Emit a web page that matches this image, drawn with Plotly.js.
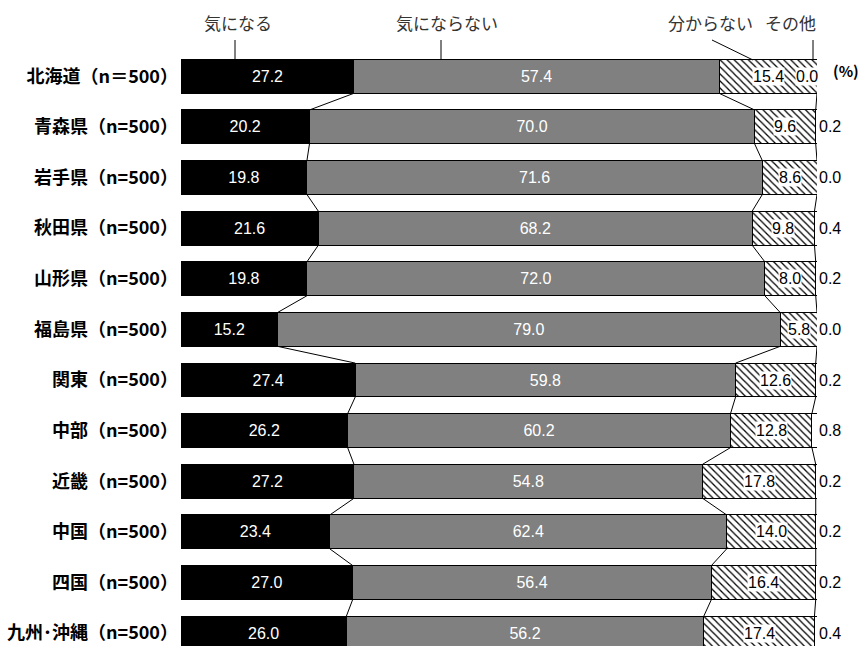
<!DOCTYPE html>
<html><head><meta charset="utf-8">
<script src="https://cdn.plot.ly/plotly-3.0.1.min.js"></script>
<style>html,body{margin:0;padding:0;background:#fff}</style>
</head><body>
<div id="chart" style="width:858px;height:646px"></div>
<script>
const categories = ['北海道（n＝500）','青森県（n=500）','岩手県（n=500）','秋田県（n=500）','山形県（n=500）','福島県（n=500）','関東（n=500）','中部（n=500）','近畿（n=500）','中国（n=500）','四国（n=500）','九州･沖縄（n=500）'];
const seriesNames = ['気になる','気にならない','分からない','その他'];
const kininaru = [27.2,20.2,19.8,21.6,19.8,15.2,27.4,26.2,27.2,23.4,27.0,26.0];
const kininaranai = [57.4,70.0,71.6,68.2,72.0,79.0,59.8,60.2,54.8,62.4,56.4,56.2];
const wakaranai = [15.4,9.6,8.6,9.8,8.0,5.8,12.6,12.8,17.8,14.0,16.4,17.4];
const sonota = [0.0,0.2,0.0,0.4,0.2,0.0,0.2,0.8,0.2,0.2,0.2,0.4];
const unitLabel = '(%)';

const numFont = {family:'Liberation Sans, Arial, sans-serif', size:16};
const bargap = 0.33;
const halfW = (1-bargap)/2;
const line = {color:'#000', width:1};

const traces = [
  {type:'bar', orientation:'h', name:seriesNames[0], y:categories, x:kininaru,
   marker:{color:'#000', line:line}, texttemplate:'%{x:.1f}', textposition:'inside',
   insidetextanchor:'middle', textangle:0, constraintext:'none',
   textfont:Object.assign({color:'#fff'}, numFont), hoverinfo:'skip'},
  {type:'bar', orientation:'h', name:seriesNames[1], y:categories, x:kininaranai,
   marker:{color:'#808080', line:line}, texttemplate:'%{x:.1f}', textposition:'inside',
   insidetextanchor:'middle', textangle:0, constraintext:'none',
   textfont:Object.assign({color:'#fff'}, numFont), hoverinfo:'skip'},
  {type:'bar', orientation:'h', name:seriesNames[2], y:categories, x:wakaranai,
   marker:{color:'#fff', line:line, pattern:{shape:'\\', fgcolor:'#000', bgcolor:'#fff', size:5, solidity:0.25}},
   textposition:'none', hoverinfo:'skip'},
  {type:'bar', orientation:'h', name:seriesNames[3], y:categories, x:sonota,
   marker:{color:'#fff', line:line}, textposition:'none', hoverinfo:'skip'}
];

const shapes = [];
const annotations = [];
const b1 = kininaru.map(v=>v);
const b2 = kininaru.map((v,i)=>v+kininaranai[i]);
const b3 = b2.map((v,i)=>v+wakaranai[i]);
for (let i=0;i<categories.length-1;i++){
  [b1,b2,b3].forEach(b=>{
    shapes.push({type:'line', xref:'x', yref:'y', x0:b[i], x1:b[i+1], y0:i+halfW, y1:i+1-halfW, line:line});
  });
}
categories.forEach((c,i)=>{
  annotations.push({x:b2[i]+wakaranai[i]/2, y:c, xref:'x', yref:'y', text:wakaranai[i].toFixed(1),
    showarrow:false, bgcolor:'#fff', borderpad:0, font:Object.assign({color:'#000'}, numFont)});
  annotations.push({x:100, y:c, xref:'x', yref:'y', text:sonota[i].toFixed(1), xanchor: i===0?'right':'left',
    xshift: i===0?2:1, showarrow:false, bgcolor: i===0?'#fff':'rgba(0,0,0,0)', borderpad:0,
    font:Object.assign({color:'#000'}, numFont)});
});
// series callouts at top
const px = v => (v-181)/636;
const py = v => 1 - (v-51)/595;
const callouts = [
  {name:seriesNames[0], tx:238, lx0:235, lx1:235},
  {name:seriesNames[1], tx:447, lx0:441, lx1:441},
  {name:seriesNames[2], tx:710, lx0:712, lx1:753},
  {name:seriesNames[3], tx:790, lx0:813, lx1:813}
];
callouts.forEach(c=>{
  annotations.push({xref:'paper', yref:'paper', x:px(c.tx), y:py(23), text:c.name, showarrow:false,
    font:{family:'Noto Sans CJK JP', size:17, color:'#333'}, xanchor:'center', yanchor:'middle'});
  shapes.push({type:'line', xref:'paper', yref:'paper', x0:px(c.lx0), x1:px(c.lx1), y0:py(40), y1:py(60), line:line});
});
annotations.push({xref:'paper', yref:'paper', x:px(831), y:py(70), text:unitLabel, showarrow:false,
  xanchor:'left', yanchor:'middle', font:{family:'Noto Sans CJK JP', size:15, color:'#000', weight:'bold'}});

const layout = {
  width:858, height:646, barmode:'stack', bargap:bargap, showlegend:false,
  margin:{l:181, r:41, t:51, b:0}, paper_bgcolor:'#fff', plot_bgcolor:'#fff',
  xaxis:{range:[0,100], visible:false, fixedrange:true},
  yaxis:{type:'category', categoryorder:'array', categoryarray:categories, range:[11.254,-0.5],
    autorange:false, showgrid:false, zeroline:false, showline:false, ticks:'', ticklabelstandoff:2,
    tickfont:{family:'Noto Sans CJK JP', size:18, color:'#000', weight:'bold'}},
  shapes:shapes, annotations:annotations
};
Plotly.newPlot('chart', traces, layout, {displayModeBar:false, staticPlot:true});
</script>
</body></html>
